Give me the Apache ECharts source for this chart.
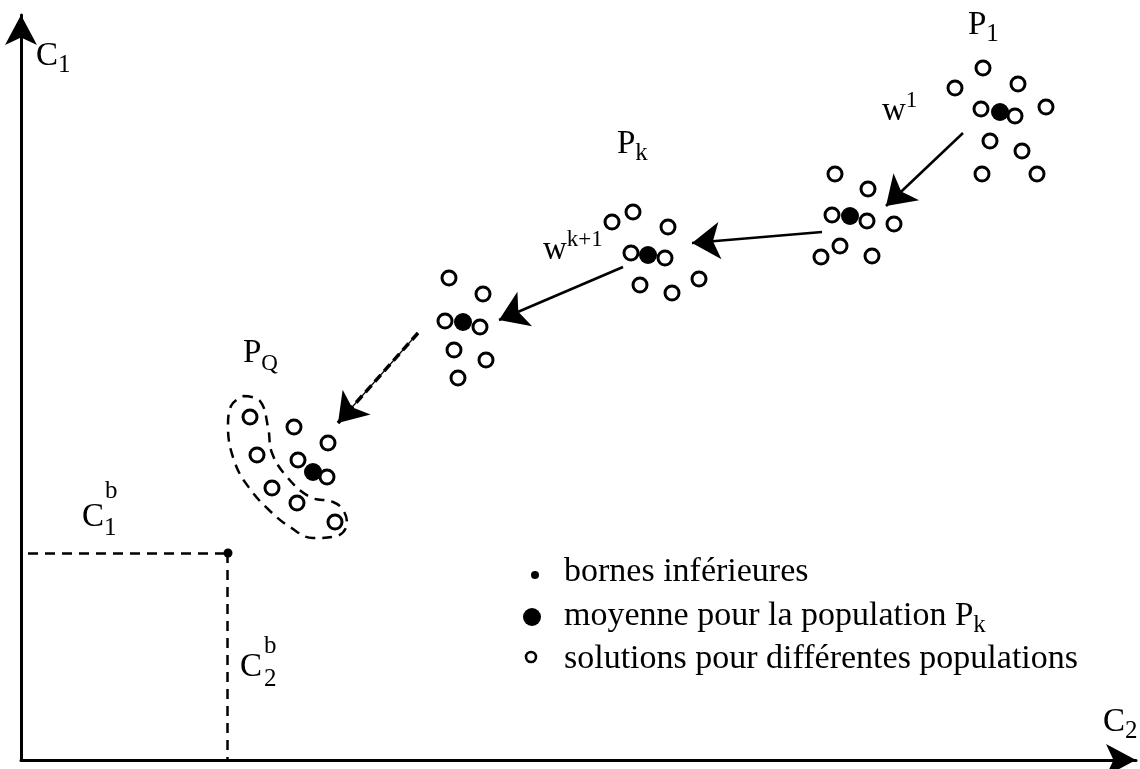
<!DOCTYPE html>
<html>
<head>
<meta charset="utf-8">
<script src="https://cdn.jsdelivr.net/npm/echarts@6/dist/echarts.min.js"></script>
<style>html,body{margin:0;padding:0;background:#fff}#c{width:1140px;height:769px}</style>
</head>
<body>
<div id="c"></div>
<script>
// Diagram units: x = distance right of the C1 axis, y = distance above the C2 axis
const populationMeans = [[979,648],[829,544],[627,505],[442,438],[292,288]];
const populationSolutions = [
  // P1
  [962,692],[934,672],[997,676],[1025,653],[960,651],[994,644],[969,619],[1001,609],[961,586],[1016,586],
  // intermediate population
  [814,586],[847,571],[811,545],[846,539],[873,536],[819,514],[800,503],[851,504],
  // Pk
  [612,548],[591,538],[647,533],[610,507],[644,502],[619,475],[678,481],[651,467],
  // intermediate population
  [428,482],[462,466],[424,439],[459,433],[433,410],[465,400],[437,382],
  // PQ
  [229,343],[273,333],[307,317],[236,305],[277,300],[306,283],[251,272],[276,257],[314,238]
];
const lowerBound = [[207,207]];
const boundLines = [[[7,207],[207,207]], [[206,207],[206,0]]];
const moveArrows = [[[942,627],[865,554]], [[801,528],[671,517]], [[602,493],[478,440]]];
const dashedArrow = [[397,427],[317,337]];
const pqHull = [[222,364],[239,359],[247,333],[251,307],[266,283],[289,263],[312,258],[322,250],[326,237],
  [316,224],[292,222],[269,233],[249,249],[229,271],[214,297],[207,333],[210,354],[222,364]];
const legendLabels = ['{t|bornes inférieures}', '{t|moyenne pour la population }{m|P}{sub|k}', '{t|solutions pour différentes populations}'];
const legendMarkers = [[514,185],[511,143],[510,103]];
const legendTextAnchors = [[543,188],[543,144],[543,101]];
const annotations = [
  {text:'{m|C}{sub|1}', at:[15,704]},
  {text:'{m|P}{sub|1}', at:[947,735]},
  {text:'{m|P}{sub|k}', at:[596,616]},
  {text:'{m|P}{subq|Q}', at:[222,407]},
  {text:'{m|w}{sup|1}', at:[861,649]},
  {text:'{m|w}{sup|k+1}', at:[522,510]},
  {text:'{m|C}{sub|2}', at:[1082,38]},
  {text:'{m|C}', at:[61,243]},
  {text:'{s|b}', at:[84,269]},
  {text:'{s|1}', at:[83,232]},
  {text:'{m|C}', at:[219,93]},
  {text:'{s|b}', at:[243,114]},
  {text:'{s|2}', at:[243,81]}
];

const FONT = '"Liberation Serif", "DejaVu Serif", serif';
const rich = {
  m: {fontFamily: FONT, fontSize: 33, lineHeight: 44, color: '#000', verticalAlign: 'middle'},
  sub: {fontFamily: FONT, fontSize: 25, lineHeight: 24, color: '#000', verticalAlign: 'bottom'},
  subq: {fontFamily: FONT, fontSize: 23, lineHeight: 18, color: '#000', verticalAlign: 'bottom'},
  sup: {fontFamily: FONT, fontSize: 23, lineHeight: 20, color: '#000', verticalAlign: 'top'},
  s: {fontFamily: FONT, fontSize: 25, lineHeight: 26, color: '#000'},
  t: {fontFamily: FONT, fontSize: 34, lineHeight: 44, color: '#000', verticalAlign: 'middle'}
};

const chart = echarts.init(document.getElementById('c'), null, {renderer: 'canvas'});
const axisCommon = {
  type: 'value', min: 0,
  splitLine: {show: false}, axisTick: {show: false}, axisLabel: {show: false},
  axisLine: {show: true, symbol: ['none', 'arrow'], symbolSize: [24, 30], lineStyle: {color: '#000', width: 3}}
};
const textLabel = {show: true, position: 'right', distance: 0, color: '#000', rich: rich};
chart.setOption({
  animation: false,
  backgroundColor: '#fff',
  grid: {left: 21, right: 4, top: 15, bottom: 9, containLabel: false},
  xAxis: Object.assign({}, axisCommon, {max: 1115}),
  yAxis: Object.assign({}, axisCommon, {max: 745}),
  series: [
    {type: 'line', data: pqHull, smooth: 0.4, symbol: 'none', clip: false,
     lineStyle: {color: '#000', width: 2.5, type: [10, 7]}},
    {type: 'lines', coordinateSystem: 'cartesian2d', clip: false,
     data: boundLines.map(c => ({coords: c})), symbol: ['none', 'none'],
     lineStyle: {color: '#000', width: 2.5, type: [10, 7], opacity: 1}},
    {type: 'lines', coordinateSystem: 'cartesian2d', clip: false,
     data: moveArrows.map(c => ({coords: c})), symbol: ['none', 'arrow'], symbolSize: 28,
     lineStyle: {color: '#000', width: 2.5, opacity: 1}},
    {type: 'lines', coordinateSystem: 'cartesian2d', clip: false,
     data: [{coords: dashedArrow}], symbol: ['none', 'none'],
     lineStyle: {color: '#000', width: 1.2, opacity: 1}},
    {type: 'lines', coordinateSystem: 'cartesian2d', clip: false,
     data: [{coords: dashedArrow}], symbol: ['none', 'arrow'], symbolSize: 28,
     lineStyle: {color: '#000', width: 3.5, type: [9, 5], opacity: 1}},
    {type: 'scatter', data: lowerBound, symbol: 'circle', symbolSize: 9, clip: false,
     itemStyle: {color: '#000', opacity: 1}},
    {type: 'scatter', data: populationMeans, symbol: 'circle', symbolSize: 18, clip: false,
     itemStyle: {color: '#000', opacity: 1}},
    {type: 'scatter', data: populationSolutions, symbol: 'circle', symbolSize: 14, clip: false,
     itemStyle: {color: '#fff', borderColor: '#000', borderWidth: 3, opacity: 1}},
    {type: 'scatter', clip: false,
     data: [
       {value: legendMarkers[0], symbolSize: 8, itemStyle: {color: '#000', opacity: 1}},
       {value: legendMarkers[1], symbolSize: 18, itemStyle: {color: '#000', opacity: 1}},
       {value: legendMarkers[2], symbolSize: 10, itemStyle: {color: '#fff', borderColor: '#000', borderWidth: 2.6, opacity: 1}}
     ]},
    {type: 'scatter', clip: false, symbolSize: 0, itemStyle: {opacity: 1},
     data: legendTextAnchors.map((p, i) => ({value: p, label: {formatter: legendLabels[i]}})),
     label: textLabel},
    {type: 'scatter', clip: false, symbolSize: 0, itemStyle: {opacity: 1},
     data: annotations.map(a => ({value: a.at, label: {formatter: a.text}})),
     label: textLabel}
  ]
});
</script>
</body>
</html>
